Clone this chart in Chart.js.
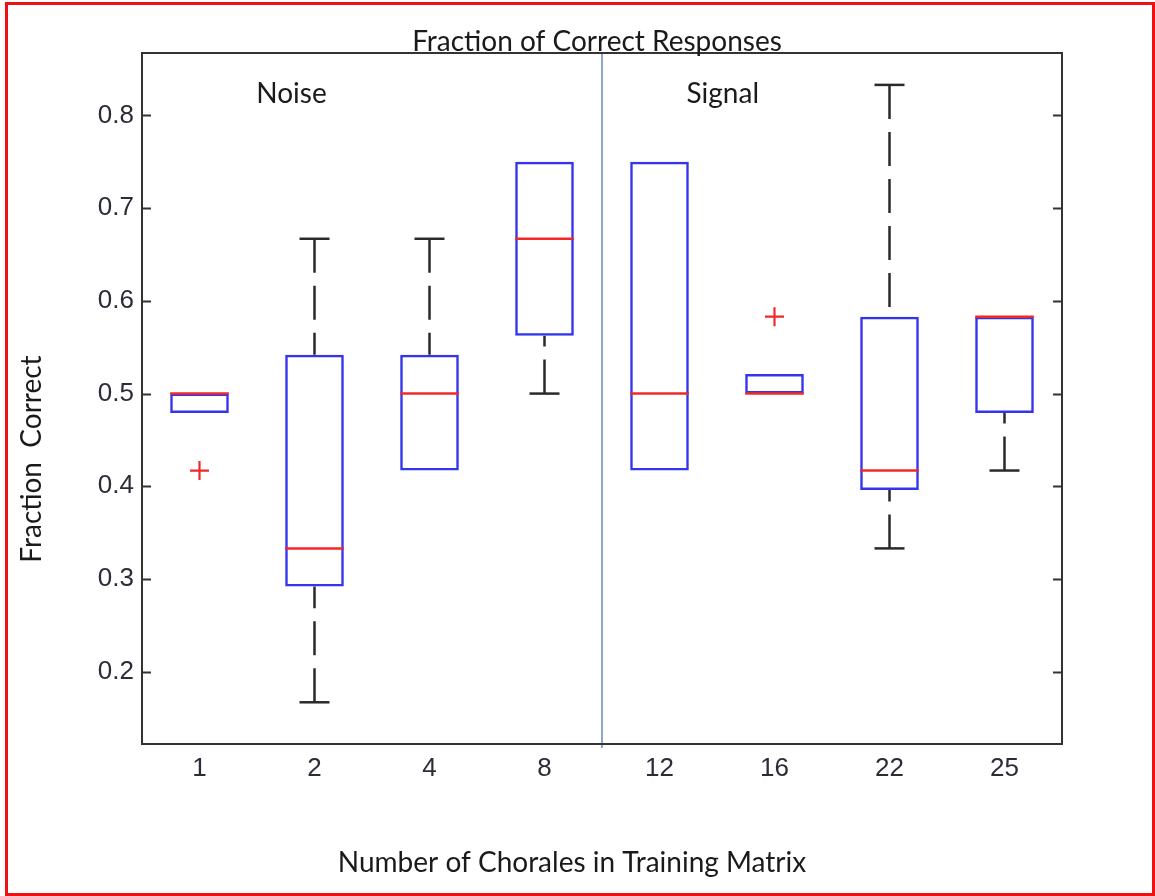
<!DOCTYPE html>
<html>
<head>
<meta charset="utf-8">
<script src="https://cdn.jsdelivr.net/npm/chart.js@4/dist/chart.umd.min.js"></script>
<style>
  html, body { margin: 0; padding: 0; background: #ffffff; }
  #wrap { width: 1155px; height: 896px; position: relative; }
  canvas { display: block; }
</style>
</head>
<body>
<div id="wrap"><canvas id="c" width="1155" height="896"></canvas></div>
<script>
// ---- data ----
const categories   = ['1', '2', '4', '8', '12', '16', '22', '25'];
const q1Values     = [0.479, 0.292, 0.417, 0.5625, 0.417, 0.500, 0.396, 0.479];
const q3Values     = [0.500, 0.542, 0.542, 0.750, 0.750, 0.521, 0.583, 0.583];
const medianValues = [0.500, 0.333, 0.500, 0.667, 0.500, 0.500, 0.417, 0.583];
const whiskerLow   = [0.479, 0.167, 0.417, 0.500, 0.417, 0.500, 0.333, 0.417];
const whiskerHigh  = [0.500, 0.667, 0.667, 0.750, 0.750, 0.521, 0.833, 0.583];
const outlierValues = [0.417, null, null, null, null, 0.583, null, null];
const yTickValues  = [0.2, 0.3, 0.4, 0.5, 0.6, 0.7, 0.8];
const groupLabels  = ['Noise', 'Signal'];
const groupLabelX  = [0.8, 4.55];     // category-index position
const groupLabelY  = [0.8135, 0.8135]; // value position (baseline)
const separatorAt  = 3.5;              // between '8' and '12'

const titleText  = 'Fraction of Correct Responses';
const xTitleText = 'Number of Chorales in Training Matrix';
const yTitleText = 'Fraction  Correct';

const TEXT_FONT = '28px Lato, "Open Sans", sans-serif';

const boxPlugin = {
  id: 'boxExtras',
  beforeDatasetsDraw(chart) {
    const ctx = chart.ctx, xs = chart.scales.x, ys = chart.scales.y;
    ctx.save();
    ctx.strokeStyle = '#2a2a2a';
    ctx.lineWidth = 2.5;
    const capHalf = 15;
    categories.forEach((c, i) => {
      const x = xs.getPixelForValue(i);
      if (whiskerHigh[i] > q3Values[i]) {
        const yc = ys.getPixelForValue(whiskerHigh[i]), yb = ys.getPixelForValue(q3Values[i]);
        ctx.setLineDash([34, 13]);
        ctx.beginPath(); ctx.moveTo(x, yc); ctx.lineTo(x, yb); ctx.stroke();
        ctx.setLineDash([]);
        ctx.beginPath(); ctx.moveTo(x - capHalf, yc); ctx.lineTo(x + capHalf, yc); ctx.stroke();
      }
      if (whiskerLow[i] < q1Values[i]) {
        const yc = ys.getPixelForValue(whiskerLow[i]), yb = ys.getPixelForValue(q1Values[i]);
        ctx.setLineDash([34, 13]);
        ctx.beginPath(); ctx.moveTo(x, yc); ctx.lineTo(x, yb); ctx.stroke();
        ctx.setLineDash([]);
        ctx.beginPath(); ctx.moveTo(x - capHalf, yc); ctx.lineTo(x + capHalf, yc); ctx.stroke();
      }
    });
    ctx.restore();
  },
  afterDatasetsDraw(chart) {
    const ctx = chart.ctx, xs = chart.scales.x, ys = chart.scales.y;
    const area = chart.chartArea;
    const meta = chart.getDatasetMeta(0);
    ctx.save();
    // medians
    ctx.strokeStyle = '#f02828';
    ctx.lineWidth = 2.5;
    meta.data.forEach((bar, i) => {
      const half = bar.width / 2;
      const y = ys.getPixelForValue(medianValues[i]);
      ctx.beginPath(); ctx.moveTo(bar.x - half, y); ctx.lineTo(bar.x + half, y); ctx.stroke();
    });
    // separator line
    const sx = xs.getPixelForValue(separatorAt);
    ctx.strokeStyle = '#6a8bb8';
    ctx.lineWidth = 1.5;
    ctx.beginPath(); ctx.moveTo(sx, area.top); ctx.lineTo(sx, area.bottom + 4); ctx.stroke();
    // frame
    ctx.strokeStyle = '#333333';
    ctx.lineWidth = 2;
    ctx.strokeRect(area.left, area.top, area.right - area.left, area.bottom - area.top);
    // inward y ticks on both sides
    yTickValues.forEach(v => {
      const y = Math.round(ys.getPixelForValue(v)) + 0.5;
      ctx.beginPath();
      ctx.moveTo(area.left, y); ctx.lineTo(area.left + 9, y);
      ctx.moveTo(area.right, y); ctx.lineTo(area.right - 9, y);
      ctx.stroke();
    });
    // group labels
    ctx.fillStyle = '#1a1a1a';
    ctx.font = TEXT_FONT;
    ctx.textAlign = 'center';
    ctx.textBaseline = 'alphabetic';
    groupLabels.forEach((t, i) => {
      ctx.fillText(t, xs.getPixelForValue(groupLabelX[i]), ys.getPixelForValue(groupLabelY[i]));
    });
    ctx.restore();
  },
  afterDraw(chart) {
    const ctx = chart.ctx;
    ctx.save();
    ctx.fillStyle = '#1a1a1a';
    ctx.font = TEXT_FONT;
    ctx.textAlign = 'center';
    ctx.textBaseline = 'alphabetic';
    ctx.fillText(titleText, 597, 51);
    ctx.fillText(xTitleText, 572, 872);
    ctx.translate(41, 459);
    ctx.rotate(-Math.PI / 2);
    ctx.fillText(yTitleText, 0, 0);
    ctx.restore();
    // outer red border
    ctx.save();
    ctx.strokeStyle = '#ee1111';
    ctx.lineWidth = 3;
    ctx.strokeRect(6.5, 3.5, 1147, 891);
    ctx.restore();
  }
};

new Chart(document.getElementById('c'), {
  type: 'bar',
  data: {
    labels: categories,
    datasets: [
      {
        type: 'bar',
        data: q1Values.map((v, i) => [v, q3Values[i]]),
        backgroundColor: 'rgba(0,0,0,0)',
        borderColor: '#3434ee',
        borderWidth: 2.5,
        borderSkipped: false,
        barPercentage: 0.51,
        categoryPercentage: 1.0
      },
      {
        type: 'line',
        data: outlierValues,
        showLine: false,
        pointStyle: 'cross',
        pointRadius: 9.5,
        pointBorderWidth: 2.2,
        pointBorderColor: '#f02828',
        borderColor: '#f02828',
        backgroundColor: '#f02828'
      }
    ]
  },
  options: {
    responsive: false,
    animation: false,
    devicePixelRatio: 1,
    layout: { padding: { top: 53, right: 93, bottom: 0, left: 0 } },
    plugins: { legend: { display: false }, tooltip: { enabled: false }, title: { display: false } },
    scales: {
      x: {
        type: 'category',
        offset: true,
        grid: { display: false, drawTicks: false },
        border: { display: false },
        ticks: { font: { family: '"Liberation Sans", Arial, sans-serif', size: 26 }, color: '#2c2c38', padding: 9 },
        afterFit: s => { s.height = 152; }
      },
      y: {
        type: 'linear',
        min: 0.122,
        max: 0.8674,
        grid: { display: false, drawTicks: false },
        border: { display: false },
        ticks: { font: { family: '"Liberation Sans", Arial, sans-serif', size: 26 }, color: '#2c2c38', padding: 8,
                 callback: v => String(Math.round(v * 10) / 10) },
        afterBuildTicks: s => { s.ticks = yTickValues.map(v => ({ value: v })); },
        afterFit: s => { s.width = 142; }
      }
    }
  },
  plugins: [boxPlugin]
});
</script>
</body>
</html>
